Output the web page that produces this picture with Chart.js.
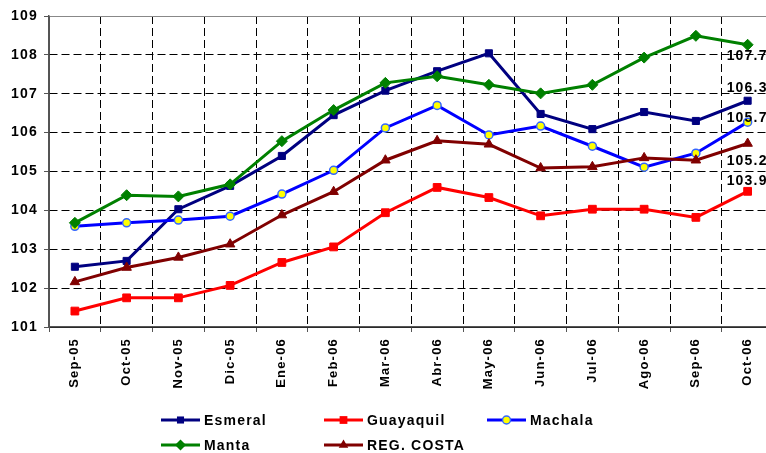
<!DOCTYPE html>
<html>
<head>
<meta charset="utf-8">
<script src="https://cdn.jsdelivr.net/npm/chart.js@4.4.1/dist/chart.umd.min.js"></script>
<style>
    html, body { margin: 0; padding: 0; background: #fff; overflow: hidden; }
    #wrap { position: relative; width: 766px; height: 453px; overflow: hidden; }
    #chart { position: absolute; left: 0; top: 0; }
    .item { position: absolute; display: flex; align-items: center; height: 16px;
            font: bold 14px Arial, "Liberation Sans", sans-serif; letter-spacing: 1.2px; color: #000; }
    .item svg { margin-right: 3px; }
</style>
</head>
<body>
<div id="wrap">
    <canvas id="chart" width="780" height="453"></canvas>
    <div id="legend"></div>
</div>
<script>
// data
const months = ["Sep-05", "Oct-05", "Nov-05", "Dic-05", "Ene-06", "Feb-06", "Mar-06",
    "Abr-06", "May-06", "Jun-06", "Jul-06", "Ago-06", "Sep-06", "Oct-06"];
const esmeral = [102.55, 102.70, 104.03, 104.63, 105.40, 106.45, 107.08, 107.58, 108.04, 106.48, 106.09, 106.53, 106.30, 106.82];
const guayaquil = [101.41, 101.75, 101.75, 102.07, 102.66, 103.06, 103.94, 104.59, 104.33, 103.86, 104.03, 104.03, 103.82, 104.49];
const machala = [103.59, 103.68, 103.75, 103.85, 104.42, 105.03, 106.12, 106.70, 105.94, 106.17, 105.65, 105.11, 105.47, 106.27];
const manta = [103.68, 104.39, 104.36, 104.67, 105.78, 106.58, 107.28, 107.45, 107.23, 107.01, 107.23, 107.93, 108.49, 108.26];
const regCosta = [102.16, 102.53, 102.79, 103.13, 103.88, 104.48, 105.29, 105.79, 105.70, 105.09, 105.12, 105.35, 105.29, 105.72];
const seriesNames = ["Esmeral", "Guayaquil", "Machala", "Manta", "REG. COSTA"];
const endLabels = ["106.30", "103.95", "105.78", "107.76", "105.25"];
const yMin = 101;
const yMax = 109;

const axisColor = "#555";
const styles = [
    { color: "#000080", fill: "#000080", point: "rect", radius: 5, shape: "square" },
    { color: "#FF0000", fill: "#FF0000", point: "rect", radius: 5.5, shape: "square" },
    { color: "#0000FF", fill: "#FFFF00", point: "circle", radius: 4, shape: "circle", border: "#3366FF" },
    { color: "#008000", fill: "#008000", point: "rectRot", radius: 5.5, shape: "diamond" },
    { color: "#800000", fill: "#800000", point: "triangle", radius: 5.5, shape: "triangle" }
];
const labelDx = -21;
const labelDy = [-13, -10, -4, 11, 18];

const values = [esmeral, guayaquil, machala, manta, regCosta];

const spacingPlugin = {
    id: "spacing",
    beforeUpdate(chart) { chart.ctx.letterSpacing = "1.2px"; },
    beforeDraw(chart) { chart.ctx.letterSpacing = "1.2px"; }
};

const endLabelPlugin = {
    id: "endLabels",
    afterDatasetsDraw(chart) {
        const ctx = chart.ctx;
        ctx.save();
        ctx.font = "bold 14px Arial, 'Liberation Sans', sans-serif";
        ctx.fillStyle = "#000";
        ctx.textAlign = "left";
        ctx.textBaseline = "middle";
        chart.data.datasets.forEach((ds, i) => {
            const meta = chart.getDatasetMeta(i);
            const pt = meta.data[meta.data.length - 1];
            ctx.fillText(endLabels[i], pt.x + labelDx, pt.y + labelDy[i]);
        });
        ctx.restore();
    }
};

new Chart(document.getElementById("chart"), {
    type: "line",
    data: {
        labels: months,
        datasets: values.map((v, i) => ({
            label: seriesNames[i],
            data: v,
            borderColor: styles[i].color,
            backgroundColor: styles[i].fill,
            pointBackgroundColor: styles[i].fill,
            pointBorderColor: styles[i].border || styles[i].color,
            pointBorderWidth: styles[i].border ? 1.5 : 1,
            pointStyle: styles[i].point,
            pointRadius: styles[i].radius,
            borderWidth: 3,
            tension: 0,
            fill: false,
            order: values.length - i
        }))
    },
    options: {
        responsive: false,
        animation: false,
        layout: { padding: { top: 16, right: 0, left: 0, bottom: 0 } },
        plugins: {
            legend: { display: false },
            tooltip: { enabled: false }
        },
        scales: {
            x: {
                offset: true,
                grid: {
                    offset: true,
                    color: ctx => ctx.index === 0 ? axisColor : "#000",
                    lineWidth: 1,
                    tickLength: 5,
                    tickColor: axisColor
                },
                border: {
                    color: axisColor,
                    width: 1.5,
                    dash: ctx => ctx.index === 0 ? [] : [8, 4]
                },
                ticks: {
                    autoSkip: false,
                    minRotation: 90,
                    maxRotation: 90,
                    padding: 6,
                    color: "#000",
                    font: { family: "Arial", size: 13, weight: "bold" }
                },
                afterFit: scale => { scale.height = 126; }
            },
            y: {
                min: yMin,
                max: yMax,
                ticks: {
                    stepSize: 1,
                    padding: 6,
                    color: "#000",
                    font: { family: "Arial", size: 14, weight: "bold" }
                },
                grid: {
                    color: ctx => (ctx.tick && ctx.tick.value === yMax) ? "#888" : "#000",
                    tickLength: 5,
                    tickColor: axisColor
                },
                border: {
                    color: axisColor,
                    width: 1.5,
                    dash: ctx => (ctx.tick && (ctx.tick.value === yMax || ctx.tick.value === yMin)) ? [] : [8, 4]
                },
                afterFit: scale => { scale.width = 49; }
            }
        }
    },
    plugins: [spacingPlugin, endLabelPlugin]
});

// legend laid out in fixed columns, like the original
function swatch(st) {
    const c = st.color;
    let mark = "";
    if (st.shape === "square") {
        const s = st.radius * 1.414;
        mark = `<rect x="${19.5 - s / 2}" y="${7 - s / 2}" width="${s}" height="${s}" fill="${st.fill}"/>`;
    } else if (st.shape === "circle") {
        mark = `<circle cx="19.5" cy="7" r="${st.radius}" fill="${st.fill}" stroke="${st.border}" stroke-width="1.5"/>`;
    } else if (st.shape === "diamond") {
        const r = st.radius;
        mark = `<polygon points="19.5,${7 - r} ${19.5 + r},7 19.5,${7 + r} ${19.5 - r},7" fill="${st.fill}"/>`;
    } else {
        const r = st.radius;
        mark = `<polygon points="19.5,${7 - r} ${19.5 + r * 0.87},${7 + r * 0.5} ${19.5 - r * 0.87},${7 + r * 0.5}" fill="${st.fill}"/>`;
    }
    return `<svg width="40" height="14"><line x1="0" y1="7" x2="39" y2="7" stroke="${c}" stroke-width="3"/>${mark}</svg>`;
}

const legend = document.getElementById("legend");
seriesNames.forEach((name, i) => {
    const el = document.createElement("div");
    el.className = "item";
    el.style.left = (161 + (i % 3) * 163) + "px";
    el.style.top = (412 + Math.floor(i / 3) * 25) + "px";
    el.innerHTML = swatch(styles[i]) + "<span>" + name + "</span>";
    legend.appendChild(el);
});
</script>
</body>
</html>
